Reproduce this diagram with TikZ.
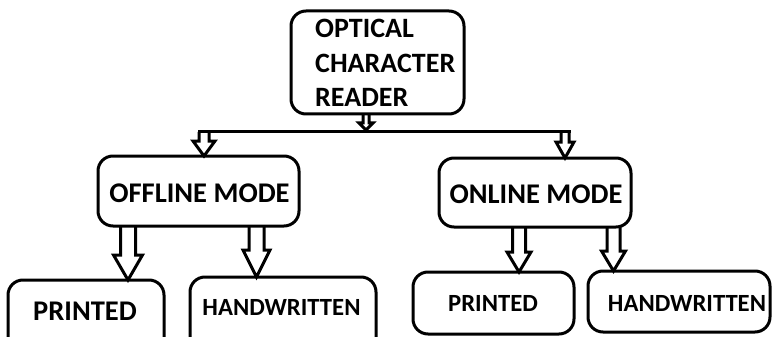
\documentclass[tikz,border=0pt]{standalone}
\usepackage{fontspec}
\setmainfont{Carlito}
\usetikzlibrary{calc}
\tikzset{
  box/.style={draw, line width=3pt, rounded corners=15pt, inner sep=0pt, outer sep=0pt},
  lbl/.style={font=\bfseries\fontsize{28.5}{34.5}\selectfont, inner sep=0pt, anchor=base},
  sml/.style={font=\bfseries\fontsize{24.7}{30}\selectfont, inner sep=0pt, anchor=base},
  arr/.style={draw, line width=3pt, line join=miter},
  barline/.style={draw, line width=3pt, line cap=rect},
}
\newcommand\blockarr[5]{\path[arr] let \p1=(#1), \p2=(#2) in
  (\x1-#3pt,\y1) -- (\x1-#3pt,\y2+#5pt) -- (\x1-#4pt,\y2+#5pt) -- (\x1,\y2)
  -- (\x1+#4pt,\y2+#5pt) -- (\x1+#3pt,\y2+#5pt) -- (\x1+#3pt,\y1);}
\begin{document}
\begin{tikzpicture}[x=1pt,y=-1pt]
\useasboundingbox (0,0) rectangle (772,337);
\clip (0,0) rectangle (772,337);
% boxes
\node[box, minimum width=173pt, minimum height=103pt] (ocr) at (377.5,62.5) {};
\node[font=\bfseries\fontsize{28}{34.5}\selectfont, inner sep=0pt, align=left, anchor=west] (ocrt) at (315,63) {OPTICAL\\CHARACTER\\READER};
\node[box, minimum width=201pt, minimum height=70pt] (offline) at (198.5,191) {};
\node[lbl] (offlinet) at (199.5,202) {OFFLINE MODE};
\node[box, minimum width=192pt, minimum height=69pt] (online) at (535,192.5) {};
\node[lbl] (onlinet) at (536,203) {ONLINE MODE};
\node[box, minimum width=156pt, minimum height=100pt] (pr1) at (86,330) {};
\node[lbl] (pr1t) at (85,320) {PRINTED};
\node[box, minimum width=186pt, minimum height=100pt] (hw1) at (283,327) {};
\node[sml] (hw1t) at (281.5,315) {HANDWRITTEN};
\node[box, minimum width=161pt, minimum height=62pt] (pr2) at (493.5,303) {};
\node[sml] (pr2t) at (493,311) {PRINTED};
\node[box, minimum width=182pt, minimum height=61pt] (hw2) at (679,301.5) {};
\node[sml] (hw2t) at (687,311) {HANDWRITTEN};
% connectors
\coordinate (bar) at (366,132);
\coordinate (la) at (204,132);
\coordinate (ra) at (565,132);
\blockarr{ocr.south -| bar}{366,130}{3}{7}{7}
\draw[barline] ($(la)+(-5,0)$) -- ($(ra)+(4,0)$);
\blockarr{la}{la |- offline.north}{5}{11}{15}
\blockarr{ra}{ra |- online.north}{4}{9}{16}
\coordinate (a1) at (128,0);
\coordinate (a2) at (256.5,0);
\coordinate (a3) at (519,0);
\coordinate (a4) at (613.5,0);
\blockarr{offline.south -| a1}{a1 |- pr1.north}{7.5}{14.5}{25}
\blockarr{offline.south -| a2}{a2 |- hw1.north}{7.5}{13.5}{27}
\blockarr{online.south -| a3}{a3 |- pr2.north}{6.5}{12}{20}
\blockarr{online.south -| a4}{a4 |- hw2.north}{6.5}{12}{20}
\end{tikzpicture}
\end{document}
